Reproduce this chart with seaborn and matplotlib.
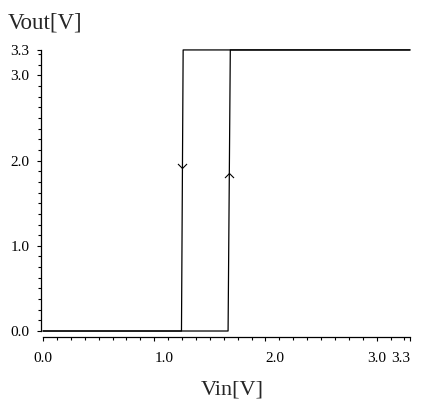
import numpy as np
import pandas as pd
import matplotlib
matplotlib.use("Agg")
import matplotlib.pyplot as plt
import seaborn as sns
from matplotlib.path import Path
from matplotlib.ticker import MultipleLocator

# hysteresis loop of the inverter (Vin sweep up, then down)
vin_up = [0.0, 1.664, 1.684, 3.3]
vout_up = [0.0, 0.0, 3.3, 3.3]
vin_down = [3.3, 1.26, 1.245, 0.0]
vout_down = [3.3, 3.3, 0.0, 0.0]

# arrow marks on the switching edges
arrow_down_xy = (1.252, 1.91)
arrow_up_xy = (1.672, 1.85)

x_ticks = [0.0, 1.0, 2.0, 3.0, 3.3]
x_labels = ["0.0", "1.0", "2.0", "3.0", "3.3"]
x_label_ha = ["center", "left", "left", "center", "right"]
y_ticks = [0.0, 1.0, 2.0, 3.0, 3.3]
y_labels = ["0.0", "1.0", "2.0", "3.0", "3.3"]

sns.set_theme(style="ticks")
plt.rcParams['font.family'] = ['Liberation Serif', 'DejaVu Serif']

df = pd.concat([
    pd.DataFrame({"vin": vin_up, "vout": vout_up, "sweep": "up"}),
    pd.DataFrame({"vin": vin_down, "vout": vout_down, "sweep": "down"}),
])

fig = plt.figure(figsize=(4.28, 4.05), dpi=100)
ax = fig.add_axes([0.1005, 0.1827, 0.8575, 0.694])

sns.lineplot(data=df, x="vin", y="vout", units="sweep", estimator=None,
             sort=False, color="black", linewidth=0.9, ax=ax, legend=False)
for line in ax.lines:
    line.set_clip_on(False)

chev_down = Path([(-1, 1), (0, 0), (1, 1)], [Path.MOVETO, Path.LINETO, Path.LINETO])
chev_up = Path([(-1, -1), (0, 0), (1, -1)], [Path.MOVETO, Path.LINETO, Path.LINETO])
ax.plot([arrow_down_xy[0]], [arrow_down_xy[1]], marker=chev_down, markersize=6.5,
        markerfacecolor="none", markeredgecolor="black", markeredgewidth=0.8, linestyle="none")
ax.plot([arrow_up_xy[0]], [arrow_up_xy[1]], marker=chev_up, markersize=6.5,
        markerfacecolor="none", markeredgecolor="black", markeredgewidth=0.8, linestyle="none")

# spines first: moving them resets the tick objects
sns.despine(ax=ax)
ax.spines["left"].set_position(("outward", 1.8))
ax.spines["bottom"].set_position(("outward", 4.0))
for s in ("left", "bottom"):
    ax.spines[s].set_linewidth(0.9)
    ax.spines[s].set_color("black")

ax.set_xlim(0, 3.3)
ax.set_ylim(0, 3.3)
ax.set_xticks(x_ticks)
ax.set_xticklabels(x_labels)
ax.set_yticks(y_ticks)
ax.set_yticklabels(y_labels)
ax.xaxis.set_minor_locator(MultipleLocator(0.125))
ax.yaxis.set_minor_locator(MultipleLocator(0.125))
ax.tick_params(which="major", direction="out", length=3, width=0.8,
               labelsize=11, colors="black")
ax.tick_params(axis="x", which="major", pad=8)
ax.tick_params(axis="y", which="major", pad=5)
ax.tick_params(which="minor", direction="out", length=2, width=0.8, colors="black")
# the x labels sit unevenly against their ticks in the original
for lab, ha in zip(ax.get_xticklabels(), x_label_ha):
    lab.set_ha(ha)

ax.set_xlabel("")
ax.set_ylabel("")
fig.text(8 / 428, 1 - 23 / 405, "Vout[V]", fontsize=16.5, va="center", ha="left")
fig.text(232 / 428, 1 - 390 / 405, "Vin[V]", fontsize=16, va="center", ha="center")

fig.savefig("out.png", dpi=100)
